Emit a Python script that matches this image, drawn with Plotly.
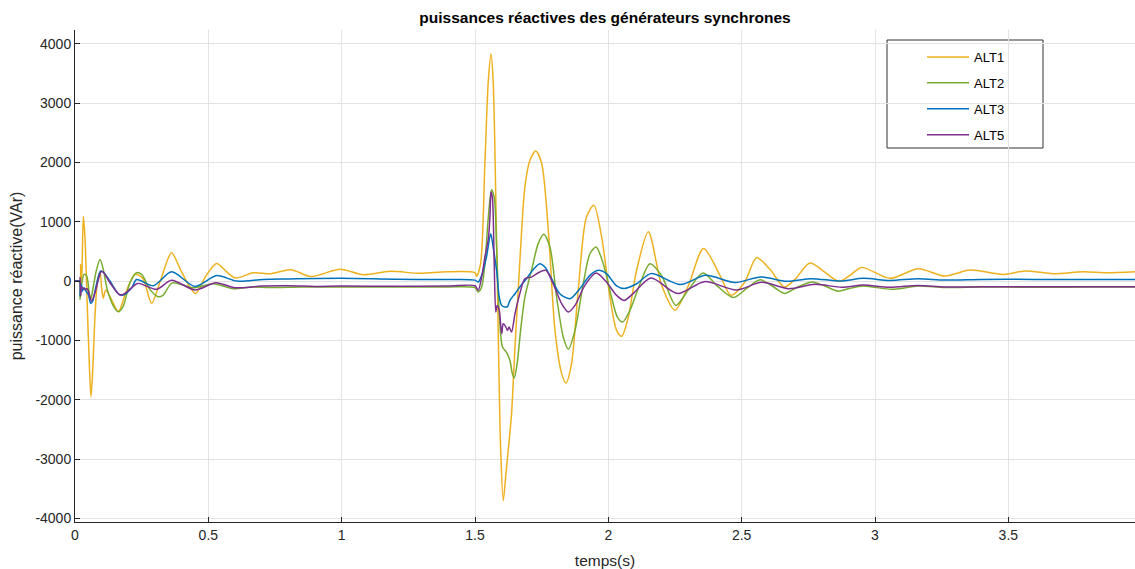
import plotly.graph_objects as go

# Reactive power of the synchronous generators (VAr) versus time (s)
t_alt1 = [0, 0.018, 0.021, 0.025, 0.031, 0.037, 0.046, 0.054, 0.060, 0.066, 0.075, 0.085,
          0.094, 0.100, 0.106, 0.115, 0.130, 0.163, 0.19, 0.225, 0.255, 0.287, 0.32, 0.362,
          0.40, 0.452, 0.49, 0.531, 0.57, 0.603, 0.668, 0.735, 0.81, 0.885, 0.994, 1.081,
          1.181, 1.294, 1.394, 1.50, 1.506, 1.521, 1.537, 1.550, 1.560, 1.568, 1.578, 1.587,
          1.596, 1.606, 1.616, 1.628, 1.637, 1.650, 1.662, 1.675, 1.687, 1.706, 1.728, 1.750,
          1.775, 1.800, 1.825, 1.841, 1.862, 1.887, 1.918, 1.946, 1.975, 2.006, 2.031, 2.050,
          2.075, 2.106, 2.150, 2.200, 2.250, 2.300, 2.357, 2.420, 2.460, 2.510, 2.556, 2.606,
          2.660, 2.700, 2.756, 2.806, 2.865, 2.910, 2.950, 3.056, 3.162, 3.262, 3.356, 3.481,
          3.562, 3.669, 3.781, 3.869, 3.975]
q_alt1 = [0, 0, 280, -50, 1090, 760, -420, -1430, -1950, -1545, -590, 30,
          150, -120, -290, -150, -250, -510, -200, 115, 40, -376, 0, 475,
          150, -210, 80, 297, 150, 50, 140, 125, 190, 75, 200, 106,
          163, 130, 157, 140, 80, 292, 1980, 3380, 3830, 3380, 1416, -830,
          -2800, -3700, -3250, -2690, -2240, -1110, -157, 854, 1584, 2034, 2190, 1980,
          854, -830, -1560, -1720, -1390, -157, 1080, 1275, 740, -270, -830, -930,
          -607, 180, 830, -70, -490, -80, 550, 84, -240, -28, 393, 197,
          -100, 30, 305, 169, -5, 110, 230, 45, 208, 84, 185, 112,
          169, 124, 157, 140, 157]

t_alt2 = [0, 0.017, 0.019, 0.025, 0.034, 0.044, 0.053, 0.059, 0.069, 0.081, 0.094, 0.106,
          0.121, 0.144, 0.163, 0.181, 0.206, 0.231, 0.25, 0.281, 0.31, 0.33, 0.365, 0.444,
          0.519, 0.594, 0.66, 0.731, 0.85, 1.0, 1.2, 1.4, 1.50, 1.512, 1.525, 1.537, 1.550,
          1.562, 1.572, 1.581, 1.591, 1.603, 1.618, 1.631, 1.640, 1.647, 1.658, 1.671, 1.687,
          1.712, 1.737, 1.758, 1.781, 1.806, 1.831, 1.850, 1.875, 1.906, 1.931, 1.954, 1.981,
          2.012, 2.034, 2.054, 2.081, 2.119, 2.156, 2.200, 2.253, 2.300, 2.355, 2.410, 2.469,
          2.520, 2.569, 2.620, 2.660, 2.710, 2.765, 2.810, 2.862, 2.900, 2.956, 3.063, 3.162,
          3.262, 3.400, 3.600, 3.800, 3.975]
q_alt2 = [0, 0, -310, -50, 112, 84, -197, -309, -84, 197, 365, 197,
          -140, -421, -517, -421, -28, 140, 112, -141, -262, -240, -30, -113,
          -45, -130, -100, -110, -100, -100, -100, -100, -112, -185, -101, 292, 1080,
          1540, 1416, 573, -550, -1110, -1200, -1340, -1560, -1635, -1390, -830, -270,
          180, 630, 787, 573, -270, -944, -1150, -830, -45, 460, 573, 292,
          -270, -607, -690, -494, -45, 290, 90, -410, -150, 135, -90, -278,
          -120, 20, -100, -208, -100, -15, -80, -170, -130, -84, -140, -84,
          -110, -100, -105, -100, -101]

t_alt3 = [0, 0.017, 0.019, 0.024, 0.028, 0.034, 0.041, 0.050, 0.059, 0.066, 0.079, 0.096,
          0.106, 0.131, 0.165, 0.181, 0.213, 0.231, 0.294, 0.362, 0.45, 0.531, 0.606, 0.706,
          0.8, 1.0, 1.2, 1.4, 1.50, 1.512, 1.525, 1.543, 1.559, 1.568, 1.581, 1.591, 1.600,
          1.612, 1.622, 1.631, 1.650, 1.668, 1.693, 1.718, 1.743, 1.762, 1.787, 1.818, 1.856,
          1.893, 1.931, 1.962, 1.993, 2.031, 2.060, 2.106, 2.160, 2.270, 2.365, 2.475, 2.572,
          2.669, 2.760, 2.870, 2.956, 3.056, 3.162, 3.262, 3.400, 3.600, 3.800, 3.975]
q_alt3 = [0, 0, -253, -60, -170, -112, -170, -225, -376, -340, -84, 169,
          152, 0, -225, -236, -112, 25, -79, 155, -90, 93, 0, 28,
          35, 45, 30, 25, 15, -17, 96, 404, 798, 573, 180, -270, -410,
          -438, -430, -326, -213, -101, 39, 191, 292, 236, 39, -213, -298,
          -129, 96, 180, 124, -80, -125, -45, 125, -60, 96, -25, 70,
          -5, 40, 0, 45, 11, 39, 17, 28, 28, 28, 28]

t_alt5 = [0, 0.018, 0.019, 0.021, 0.025, 0.034, 0.045, 0.050, 0.062, 0.075, 0.088, 0.098,
          0.106, 0.131, 0.169, 0.190, 0.235, 0.306, 0.362, 0.45, 0.528, 0.6, 0.7, 0.8,
          0.9, 1.0, 1.2, 1.4, 1.50, 1.512, 1.525, 1.537, 1.550, 1.556, 1.560, 1.565, 1.572,
          1.578, 1.583, 1.591, 1.600, 1.606, 1.616, 1.622, 1.628, 1.637, 1.650, 1.668, 1.687,
          1.712, 1.743, 1.766, 1.793, 1.825, 1.850, 1.875, 1.912, 1.954, 1.993, 2.031, 2.059,
          2.093, 2.160, 2.260, 2.360, 2.480, 2.575, 2.675, 2.775, 2.875, 2.956, 3.056, 3.162,
          3.262, 3.400, 3.600, 3.800, 3.975]
q_alt5 = [0, 0, 60, -250, -100, -140, -130, -170, -337, -197, 28, 160,
          150, -28, -236, -200, -40, -140, 14, -150, -28, -113, -85, -80,
          -90, -85, -88, -85, -80, -157, 67, 404, 713, 1080, 1500, 1416, 292,
          -522, -410, -494, -888, -720, -775, -831, -775, -860, -550, -213, 39,
          67, 152, 180, -45, -382, -522, -410, -73, 135, -17, -242, -326,
          -213, 50, -210, -10, -150, -22, -129, -56, -105, -67, -105, -73,
          -101, -95, -95, -96, -96]

series_names = ["ALT1", "ALT2", "ALT3", "ALT5"]
series_t = [t_alt1, t_alt2, t_alt3, t_alt5]
series_q = [q_alt1, q_alt2, q_alt3, q_alt5]
series_colors = ["#EDB120", "#77AC30", "#0072BD", "#7E2F8E"]

x_ticks = [0, 0.5, 1, 1.5, 2, 2.5, 3, 3.5]
x_tick_labels = ["0", "0.5", "1", "1.5", "2", "2.5", "3", "3.5"]
y_ticks = [-4000, -3000, -2000, -1000, 0, 1000, 2000, 3000, 4000]
y_tick_labels = [str(v) for v in y_ticks]

FONT = "Liberation Sans, Arial, Helvetica, sans-serif"
AXIS_COLOR = "#262626"
GRID_COLOR = "#E3E3E3"

fig = go.Figure()
for name, tt, qq, col in zip(series_names, series_t, series_q, series_colors):
    fig.add_trace(go.Scatter(
        x=tt, y=qq, name=name, mode="lines",
        line=dict(color=col, width=1.5, shape="spline", smoothing=0.8),
        legendgroup=name,
    ))

fig.update_layout(
    width=1135, height=569,
    margin=dict(l=75, r=0, t=30, b=47),
    plot_bgcolor="white", paper_bgcolor="white",
    font=dict(family=FONT, size=14, color=AXIS_COLOR),
    title=dict(
        text="<b>puissances réactives des générateurs synchrones</b>",
        x=0.5, xref="paper", xanchor="center",
        y=1 - 18 / 569, yref="container", yanchor="middle",
        font=dict(family=FONT, size=15.5, color="#000000"),
    ),
    showlegend=True,
    legend=dict(
        x=(922 - 75) / 1060, xanchor="left",
        y=(522 - 42) / 492, yanchor="top",
        bgcolor="rgba(0,0,0,0)", borderwidth=0,
        font=dict(family=FONT, size=13, color="#000000"),
        tracegroupgap=6, itemwidth=42,
    ),
    shapes=[dict(
        type="rect", xref="paper", yref="paper",
        x0=(887 - 75) / 1060, x1=(1043 - 75) / 1060,
        y0=(522 - 148) / 492, y1=(522 - 40) / 492,
        line=dict(color="#333333", width=1), fillcolor="white", layer="below",
    )],
)

fig.update_xaxes(
    range=[0, 3.975], tickvals=x_ticks, ticktext=x_tick_labels,
    showgrid=True, gridcolor=GRID_COLOR, gridwidth=1, zeroline=False,
    showline=True, linecolor=AXIS_COLOR, linewidth=1, mirror=False,
    ticks="inside", ticklen=5, tickcolor=AXIS_COLOR,
    tickfont=dict(size=14, color=AXIS_COLOR),
    title=dict(text="temps(s)", font=dict(size=15.5, color=AXIS_COLOR), standoff=14),
)
fig.update_yaxes(
    range=[-4060, 4230], tickvals=y_ticks, ticktext=y_tick_labels,
    showgrid=True, gridcolor=GRID_COLOR, gridwidth=1, zeroline=False,
    showline=True, linecolor=AXIS_COLOR, linewidth=1, mirror=False,
    ticks="inside", ticklen=5, tickcolor=AXIS_COLOR,
    tickfont=dict(size=14, color=AXIS_COLOR),
    title=dict(text="puissance réactive(VAr)", font=dict(size=16, color=AXIS_COLOR), standoff=8),
)

fig.write_html("out.html")
